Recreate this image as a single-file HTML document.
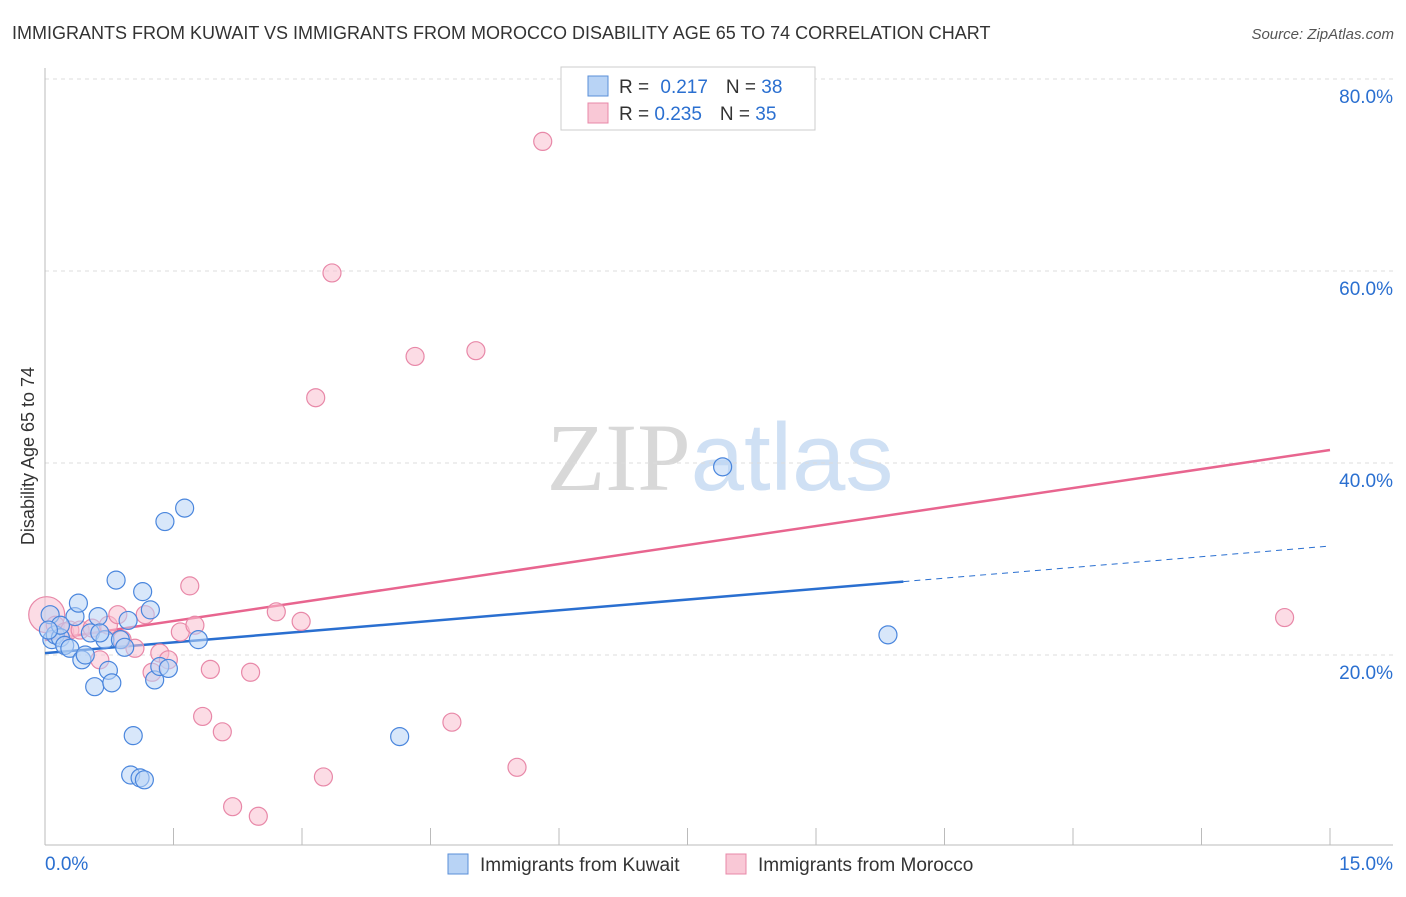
<!DOCTYPE html>
<html><head><meta charset="utf-8"><style>
body{margin:0;background:#fff;font-family:"Liberation Sans",sans-serif}
svg text{font-family:"Liberation Sans",sans-serif}
</style></head><body>
<svg id="chart" width="1406" height="892" viewBox="0 0 1406 892">
<text x="12" y="39" font-size="18" fill="#333">IMMIGRANTS FROM KUWAIT VS IMMIGRANTS FROM MOROCCO DISABILITY AGE 65 TO 74 CORRELATION CHART</text>
<text x="1394" y="39" font-size="15" fill="#555" text-anchor="end" font-style="italic">Source: ZipAtlas.com</text>
<text x="720" y="490" font-size="96" text-anchor="middle"><tspan fill="#d8d8d8" font-family="Liberation Serif">ZIP</tspan><tspan fill="#cfe0f4">atlas</tspan></text>
<g id="grid"></g>
<g id="axes"></g>
<g id="lines"></g>
<g id="points"></g>
<text transform="translate(34,456) rotate(-90)" font-size="18" fill="#333" text-anchor="middle">Disability Age 65 to 74</text>
<g>
<rect x="561" y="67" width="254" height="63" fill="#fff" stroke="#ccc"/>
<rect x="588" y="76" width="20" height="20" fill="#b8d3f5" stroke="#5a8fd8"/>
<rect x="588" y="103" width="20" height="20" fill="#f9c8d6" stroke="#e888a8"/>
<text x="619" y="93" font-size="19" fill="#333">R = <tspan fill="#2a6fd0" dx="6">0.217</tspan><tspan fill="#333" dx="18">N = </tspan><tspan fill="#2a6fd0">38</tspan></text>
<text x="619" y="120" font-size="19" fill="#333">R = <tspan fill="#2a6fd0">0.235</tspan><tspan fill="#333" dx="18">N = </tspan><tspan fill="#2a6fd0">35</tspan></text>
</g>
<g>
<rect x="448" y="854" width="20" height="20" fill="#b8d3f5" stroke="#5a8fd8"/>
<text x="480" y="871" font-size="19" fill="#333">Immigrants from Kuwait</text>
<rect x="726" y="854" width="20" height="20" fill="#f9c8d6" stroke="#e888a8"/>
<text x="758" y="871" font-size="19" fill="#333">Immigrants from Morocco</text>
</g>
</svg>
<script>
const xTicks=[0,15];
const yTicks=[20,40,60,80];
const kuwaitX=[0.06,0.08,0.12,0.18,0.23,0.29,0.35,0.39,0.43,0.47,0.53,0.58,0.62,0.70,0.74,0.78,0.83,0.88,0.93,0.97,1.03,1.00,1.11,1.16,1.14,1.23,1.28,1.34,1.44,1.40,1.63,1.79,4.14,7.91,9.84,0.18,0.64,0.04];
const kuwaitY=[24.2,21.6,22.1,21.8,21.0,20.7,24.0,25.4,19.5,20.0,22.3,16.7,24.0,21.6,18.4,17.1,27.8,21.6,20.8,23.6,11.6,7.5,7.2,7.0,26.6,24.7,17.4,18.8,18.6,33.9,35.3,21.6,11.5,39.6,22.1,23.1,22.3,22.6];
const moroccoX=[0.02,0.12,0.23,0.29,0.41,0.55,0.64,0.74,0.85,0.90,1.05,1.17,1.25,1.34,1.44,1.58,1.69,1.75,1.84,1.93,2.07,2.19,2.40,2.49,2.70,2.99,3.16,3.25,3.35,4.32,4.75,5.03,5.51,5.81,14.47];
const moroccoY=[24.2,23.1,22.4,22.6,22.6,22.8,19.5,23.1,24.2,21.6,20.7,24.2,18.2,20.2,19.5,22.4,27.2,23.1,13.6,18.5,12.0,4.2,18.2,3.2,24.5,23.5,46.8,7.3,59.8,51.1,13.0,51.7,8.3,73.5,23.9];
const kuwaitTrend=[20.2,31.35];
const moroccoTrend=[21.56,41.35];
const kuwaitSolidEnd=10.02;
const NS="http://www.w3.org/2000/svg";
const X=v=>45+v/15*1285;
const Y=v=>847-v*9.6;
function mk(tag,attrs,parent){const e=document.createElementNS(NS,tag);for(const k in attrs)e.setAttribute(k,attrs[k]);document.getElementById(parent).appendChild(e);return e;}
yTicks.forEach(t=>{
 const l=mk('line',{x1:45,x2:1393,y1:Y(t),y2:Y(t),stroke:'#ddd','stroke-dasharray':'4,4'},'grid');
 
 
 const tx=mk('text',{x:1393,y:Y(t)+24,'font-size':19,fill:'#2a6fd0','text-anchor':'end'},'grid');
 tx.textContent=t.toFixed(1)+'%';
 
 
});
const ax=mk('line',{x1:45,x2:1393,y1:845,y2:845,stroke:'#bbb'},'axes');


const ay=mk('line',{x1:45,x2:45,y1:68,y2:845,stroke:'#bbb'},'axes');


for(let i=0;i<=10;i++){
 const tk=mk('line',{x1:X(i*1.5),x2:X(i*1.5),y1:828,y2:845,stroke:'#bbb'},'axes');
 
 
}
xTicks.forEach((t,i)=>{
 const tx=mk('text',{x:i?1393:45,y:870,'font-size':19,fill:'#2a6fd0','text-anchor':i?'end':'start'},'axes');
 tx.textContent=t.toFixed(1)+'%';
 
 
});
function pts(xs,ys,fill,stroke,name){
 xs.forEach((x,i)=>{
  const r=(name==='morocco-point'&&i===0)?18:9;
  const c=mk('circle',{cx:X(x),cy:Y(ys[i]),r:r,fill:fill,'fill-opacity':0.55,stroke:stroke,'stroke-width':1.2},'points');
  
  
 });
}
pts(moroccoX,moroccoY,'#f9c0d0','#e888a8','morocco-point');
pts(kuwaitX,kuwaitY,'#b8d3f5','#4a86dd','kuwait-point');
const kt=v=>kuwaitTrend[0]+(kuwaitTrend[1]-kuwaitTrend[0])*v/15;
const l1=mk('line',{x1:X(0),y1:Y(kt(0)),x2:X(kuwaitSolidEnd),y2:Y(kt(kuwaitSolidEnd)),stroke:'#2a6fd0','stroke-width':2.5},'lines');


const l2=mk('line',{x1:X(kuwaitSolidEnd),y1:Y(kt(kuwaitSolidEnd)),x2:X(15),y2:Y(kt(15)),stroke:'#2a6fd0','stroke-width':1,'stroke-dasharray':'6,5'},'lines');


const l3=mk('line',{x1:X(0),y1:Y(moroccoTrend[0]),x2:X(15),y2:Y(moroccoTrend[1]),stroke:'#e8658f','stroke-width':2.5},'lines');


</script>
</body></html>
